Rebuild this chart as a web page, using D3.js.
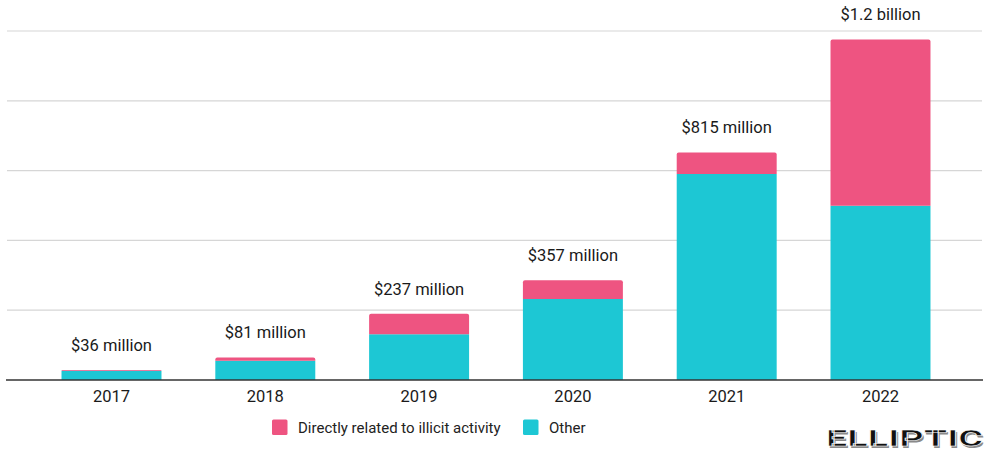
<!DOCTYPE html>
<html>
<head>
<meta charset="utf-8">
<script src="https://cdn.jsdelivr.net/npm/d3@7"></script>
<style>
  html, body { margin: 0; padding: 0; background: #ffffff; }
  svg { display: block; }
  text { font-family: Roboto, "Liberation Sans", Arial, sans-serif; }
</style>
</head>
<body>
<svg id="chart" width="988" height="452"></svg>
<script>
// ---- data (US$ millions) ----
const years = ["2017", "2018", "2019", "2020", "2021", "2022"];
const other = [33, 69, 164, 290, 738, 624];
const illicit = [3, 12, 73, 67, 77, 596];
const totalLabels = ["$36 million", "$81 million", "$237 million", "$357 million", "$815 million", "$1.2 billion"];
const gridTicks = [0, 250, 500, 750, 1000, 1250];
const seriesNames = ["Directly related to illicit activity", "Other"];
const colors = { illicit: "#EE5481", other: "#1DC7D4" };

const svg = d3.select("#chart");

const x = d3.scaleBand().domain(years).range([34.6, 957.4]).paddingInner(0.35).paddingOuter(0.175);
const y = d3.scaleLinear().domain([0, 1250]).range([380, 31]);

// gridlines
svg.append("g")
  .selectAll("line")
  .data(gridTicks.filter(d => d > 0))
  .join("line")
  .attr("x1", 7).attr("x2", 982)
  .attr("y1", d => y(d)).attr("y2", d => y(d))
  .attr("stroke", "#d6d6d6").attr("stroke-width", 1.2);

// stacked data
const rows = years.map((yr, i) => ({ year: yr, other: other[i], illicit: illicit[i] }));
const stack = d3.stack().keys(["other", "illicit"]);
const layers = stack(rows);

function topRounded(x0, y0, w, h, r) {
  r = Math.min(r, h, w / 2);
  return `M${x0},${y0 + h}V${y0 + r}Q${x0},${y0} ${x0 + r},${y0}H${x0 + w - r}Q${x0 + w},${y0} ${x0 + w},${y0 + r}V${y0 + h}Z`;
}

layers.forEach(layer => {
  const key = layer.key;
  svg.append("g")
    .selectAll("path")
    .data(layer)
    .join("path")
    .attr("fill", colors[key])
    .attr("d", d => {
      const x0 = x(d.data.year), w = x.bandwidth();
      const yTop = y(d[1]), yBot = y(d[0]);
      const h = yBot - yTop;
      if (key === "illicit") return topRounded(x0, yTop, w, h, 2);
      return `M${x0},${yTop}H${x0 + w}V${yBot}H${x0}Z`;
    });
});

// baseline
svg.append("line")
  .attr("x1", 6).attr("x2", 983)
  .attr("y1", y(0)).attr("y2", y(0))
  .attr("stroke", "#333").attr("stroke-width", 1.3);

// total labels
svg.append("g")
  .selectAll("text")
  .data(rows)
  .join("text")
  .attr("x", d => x(d.year) + x.bandwidth() / 2)
  .attr("y", d => y(d.other + d.illicit) - 19)
  .attr("text-anchor", "middle")
  .attr("font-size", 16.5)
  .attr("fill", "#1a1a1a")
  .text((d, i) => totalLabels[i]);

// x axis labels
const xAxis = d3.axisBottom(x).tickSize(0).tickPadding(0);
const gx = svg.append("g").attr("transform", `translate(0,${y(0)})`).call(xAxis);
gx.select(".domain").remove();
gx.selectAll("text")
  .attr("dy", 0).attr("y", 22)
  .attr("font-size", 16.5)
  .attr("font-family", "Roboto, 'Liberation Sans', Arial, sans-serif")
  .attr("fill", "#1a1a1a");

// legend
const legend = svg.append("g");
const legendItems = [
  { name: seriesNames[0], color: colors.illicit, x: 272 },
  { name: seriesNames[1], color: colors.other, x: 523 }
];
legendItems.forEach(it => {
  legend.append("rect").attr("x", it.x).attr("y", 419.5).attr("width", 15.5).attr("height", 15.5)
    .attr("rx", 1.5).attr("fill", it.color);
  legend.append("text").attr("x", it.x + 26).attr("y", 432.5)
    .attr("font-size", 15).attr("fill", "#222").text(it.name);
});

// logo
const logo = svg.append("g").attr("transform", "translate(826,446)");
logo.append("text").attr("x", 1.5).attr("y", 1.5)
  .attr("font-family", "'DejaVu Sans', sans-serif").attr("font-weight", "bold")
  .attr("font-size", 22).attr("fill", "#8a8a8a")
  .attr("textLength", 157).attr("lengthAdjust", "spacingAndGlyphs")
  .text("ELLIPTIC");
logo.append("text").attr("x", 0).attr("y", 0)
  .attr("font-family", "'DejaVu Sans', sans-serif").attr("font-weight", "bold")
  .attr("font-size", 22).attr("fill", "#111")
  .attr("stroke", "#fff").attr("stroke-width", 0.6)
  .attr("textLength", 157).attr("lengthAdjust", "spacingAndGlyphs")
  .text("ELLIPTIC");
</script>
</body>
</html>
